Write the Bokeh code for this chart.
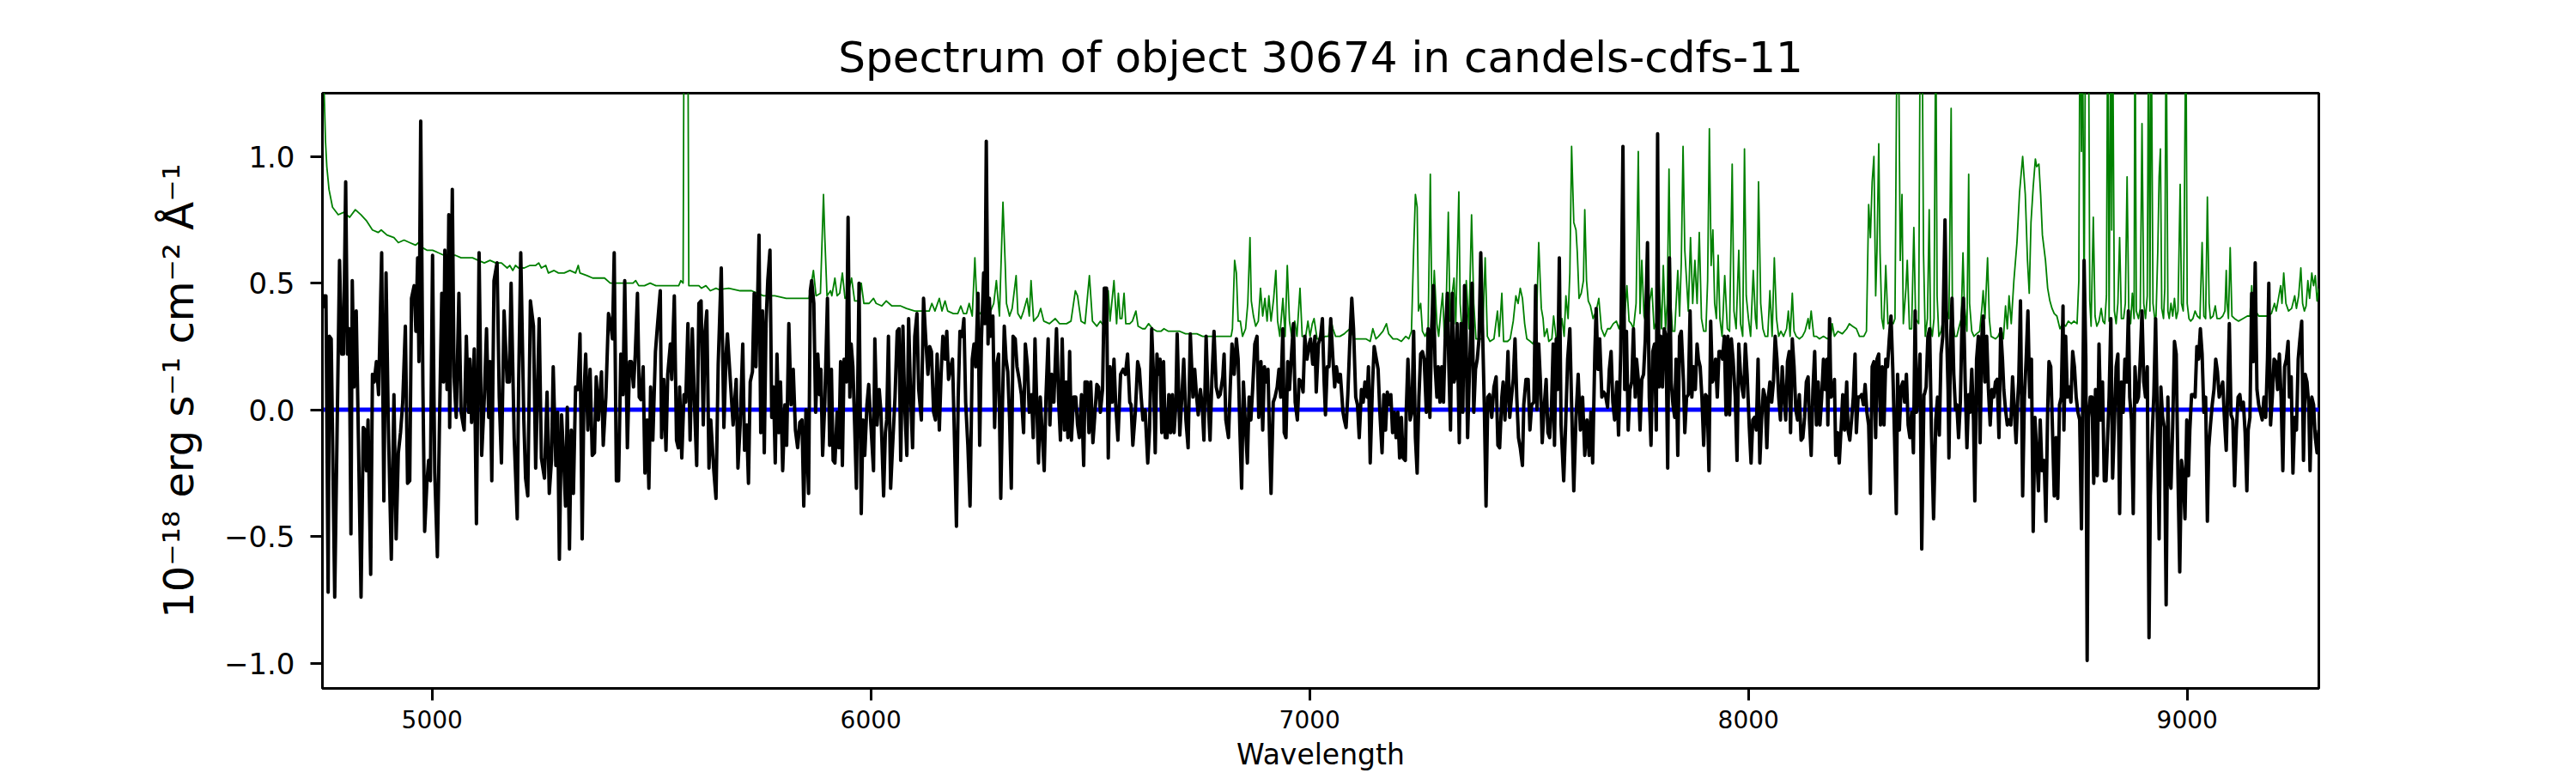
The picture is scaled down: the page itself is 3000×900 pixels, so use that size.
from bokeh.plotting import figure
from bokeh.models import Range1d, Span, FixedTicker
from bokeh.embed import file_html
from bokeh.resources import INLINE

title_text = "Spectrum of object 30674 in candels-cdfs-11"
x_label = "Wavelength"
y_label = "10\u207b\u00b9\u2078 erg s\u207b\u00b9 cm\u207b\u00b2 \u00c5\u207b\u00b9"
x_ticks = [5000, 6000, 7000, 8000, 9000]
y_ticks = [-1.0, -0.5, 0.0, 0.5, 1.0]
y_tick_labels = ["\u22121.0", "\u22120.5", "0.0", "0.5", "1.0"]
x_limits = (4750, 9300)
y_limits = (-1.10, 1.25)
zero_level = 0.0

# flux (black), (wavelength, value) pairs
flux_seg1 = [(4750,0.40),(4753,0.45),(4758,0.45),(4763,-0.72),(4766,0.29),(4770,0.28),(4778,-0.74),(4789,0.59),(4794,0.22),(4798,0.22),(4803,0.90),(4807,0.22),(4811,0.32),(4815,-0.49),(4818,0.51),(4822,0.09),(4827,0.39),(4832,-0.11),(4838,-0.74),(4843,-0.07),(4847,-0.08),(4850,-0.24),(4854,-0.04),(4860,-0.65),(4864,0.14),(4868,0.11),(4873,0.19),(4878,0.06),(4885,0.62),(4890,-0.36),(4895,0.54),(4900,-0.04),(4907,-0.59),(4913,0.06),(4918,-0.51),(4923,-0.17),(4928,-0.09),(4933,0.03),(4939,0.33),(4944,-0.29),(4949,-0.28),(4953,0.44),(4959,0.49),(4963,0.31),(4967,0.60),(4970,0.19),(4974,1.14),(4979,0.09),(4983,-0.48),(4988,-0.29),(4992,-0.20),(4996,-0.28),(5001,0.61),(5006,-0.25),(5012,-0.58),(5017,-0.03),(5022,0.46),(5026,0.11),(5029,0.63),(5034,0.08),(5038,0.77),(5040,-0.07),(5046,0.87),(5050,0.13),(5055,-0.03),(5061,0.46),(5066,-0.01),(5073,-0.08),(5078,0.29),(5083,-0.01),(5086,0.20),(5090,-0.05),(5096,0.24),(5101,-0.45),(5107,0.62),(5113,-0.18),(5119,0.05),(5124,0.32),(5129,-0.03),(5132,0.19),(5136,-0.28),(5141,0.51),(5148,0.58),(5153,0.05),(5158,-0.21),(5164,0.39),(5171,0.11),(5176,0.11),(5180,0.50),(5187,-0.11),(5194,-0.43),(5197,0.08),(5202,0.62),(5209,-0.04),(5213,-0.27),(5218,-0.34),(5224,0.43),(5231,0.33),(5236,-0.23),(5244,0.36),(5249,-0.19),(5256,-0.27),(5262,0.07),(5267,-0.33),(5272,-0.20),(5276,0.17),(5282,-0.22),(5286,-0.01),(5290,-0.59),(5295,-0.02),(5300,-0.20),(5304,-0.38),(5308,0.01),(5313,-0.55),(5317,-0.08),(5322,-0.33),(5327,0.09),(5332,0.08),(5337,0.30),(5342,-0.51),(5346,0.06),(5350,0.22),(5355,-0.08),(5360,0.16),(5365,-0.18),(5370,-0.17),(5374,0.13),(5379,-0.04),(5386,0.15),(5390,-0.14),(5396,0.05),(5402,0.38),(5407,0.34),(5411,0.28),(5415,0.62),(5420,-0.28),(5425,-0.28),(5430,0.22),(5435,0.06),(5439,0.51),(5445,-0.15),(5450,0.19),(5454,0.19),(5459,0.09),(5463,0.22),(5468,0.46),(5472,0.05),(5476,0.04),(5481,0.17),(5485,-0.25),(5490,-0.04),(5494,-0.31),(5498,0.09),(5503,-0.12),(5509,0.23),(5513,0.32),(5520,0.47),(5523,-0.11),(5528,0.12),(5533,-0.16),(5537,0.14),(5543,0.26),(5546,0.12),(5552,0.45),(5557,-0.12),(5561,-0.15),(5564,0.09),(5569,-0.19),(5574,0.06),(5578,0.03),(5583,0.34),(5588,-0.12),(5593,0.32),(5598,0.02),(5603,-0.22),(5608,0.42),(5613,0.43),(5618,-0.06),(5622,0.31),(5626,0.39),(5631,-0.23),(5635,-0.04),(5642,-0.24),(5647,-0.35),(5652,0.18),(5659,0.56),(5665,-0.07),(5670,0.22)]

flux_seg2 = [(5673,0.30),(5686,-0.06),(5693,0.12),(5697,-0.23),(5702,-0.06),(5708,0.26),(5712,-0.16),(5717,-0.06),(5721,-0.29),(5725,0.11),(5730,0.15),(5734,0.46),(5738,0.17),(5742,0.45),(5745,0.69),(5749,-0.09),(5753,0.39),(5757,-0.17),(5761,0.34),(5765,0.51),(5770,0.63),(5774,-0.03),(5778,0.09),(5782,-0.21),(5786,0.22),(5790,-0.09),(5794,0.11),(5799,-0.24),(5804,0.02),(5808,-0.14),(5813,0.34),(5818,0.02),(5823,0.16),(5828,-0.08),(5833,-0.15),(5838,-0.05),(5843,-0.04),(5847,-0.38),(5852,0.00),(5858,-0.33),(5862,0.47),(5865,0.51),(5870,0.42),(5874,-0.01),(5879,0.22),(5883,0.06),(5886,0.16),(5890,-0.18),(5895,0.03),(5901,0.44),(5906,-0.14),(5910,0.16),(5914,-0.20),(5918,-0.21),(5923,-0.01),(5927,-0.15),(5931,0.19),(5935,-0.22),(5939,0.20),(5944,0.11),(5948,0.76),(5952,0.05),(5955,0.26),(5959,0.17),(5963,-0.06),(5967,-0.31),(5973,0.50),(5978,-0.41),(5982,-0.04),(5986,-0.18),(5991,0.02),(5995,0.10),(5999,-0.03),(6006,-0.24),(6009,0.28),(6014,-0.06),(6019,0.08),(6023,-0.01),(6029,-0.34),(6033,-0.09),(6036,-0.04),(6040,0.29),(6045,-0.31),(6049,-0.16),(6055,0.05),(6060,0.31),(6064,0.32),(6068,-0.20),(6073,0.33),(6077,0.02),(6082,-0.18),(6086,0.36),(6090,0.09),(6095,-0.15),(6100,0.29),(6105,0.38),(6109,0.08),(6115,-0.04),(6120,0.44),(6125,0.28),(6130,0.14),(6134,0.25),(6138,0.23),(6143,-0.01),(6147,-0.04),(6151,0.22),(6156,-0.08),(6160,0.14),(6164,0.29),(6169,0.20),(6173,0.31),(6177,0.12),(6182,0.17),(6186,0.20),(6190,-0.08),(6195,-0.46),(6199,0.05),(6203,0.31),(6208,0.29),(6212,0.36),(6216,0.03),(6221,-0.14),(6226,-0.38),(6231,0.20),(6235,0.26),(6239,0.17),(6244,0.46),(6248,-0.14),(6252,0.28),(6257,0.54),(6260,0.34),(6263,1.06),(6267,0.26),(6270,0.44),(6273,0.29),(6278,0.37),(6282,-0.07),(6286,0.17),(6291,0.22),(6296,-0.35),(6300,0.03),(6304,0.33),(6308,0.20),(6312,0.15),(6316,-0.03),(6320,-0.31),(6324,0.29),(6329,0.28),(6333,0.17),(6338,0.12),(6343,0.06),(6348,-0.09),(6352,0.26),(6357,0.17),(6361,-0.01),(6366,0.06),(6370,-0.11),(6374,0.28),(6378,0.03),(6382,-0.21),(6386,0.05),(6391,-0.11),(6395,-0.24),(6399,0.05),(6404,0.28),(6408,-0.06),(6412,0.14),(6417,0.03),(6423,0.32),(6428,0.03),(6432,-0.12),(6436,0.28),(6441,-0.08),(6445,0.11),(6449,-0.11),(6453,0.23),(6457,-0.12),(6462,0.05),(6467,0.05),(6471,-0.06),(6475,-0.11),(6480,0.06),(6485,-0.22),(6488,0.11),(6493,0.11),(6497,-0.09),(6501,0.11),(6506,-0.13),(6510,-0.03),(6515,0.10),(6519,0.09),(6523,-0.01),(6528,0.08),(6532,0.48),(6537,0.48),(6541,-0.19),(6545,0.17),(6550,0.03),(6554,0.20),(6558,0.02),(6563,-0.12),(6569,0.14),(6575,0.16)]

flux_seg3 = [(6580,0.14),(6585,0.22),(6590,0.03),(6593,0.02),(6597,-0.14),(6603,0.00),(6608,0.19),(6612,0.16),(6616,0.05),(6620,-0.04),(6625,0.00),(6631,-0.21),(6635,-0.08),(6640,0.32),(6644,0.14),(6648,-0.17),(6652,0.22),(6655,0.14),(6659,0.20),(6663,-0.09),(6667,0.19),(6671,-0.11),(6675,-0.11),(6679,0.06),(6683,-0.09),(6687,0.06),(6691,-0.09),(6695,0.02),(6698,0.30),(6704,-0.10),(6709,0.06),(6713,0.20),(6718,-0.04),(6723,-0.15),(6728,0.30),(6734,0.05),(6738,0.16),(6742,0.06),(6746,-0.02),(6751,0.08),(6755,0.02),(6759,-0.12),(6764,0.29),(6769,0.02),(6773,-0.12),(6777,0.11),(6782,0.31),(6787,0.09),(6792,0.05),(6796,0.06),(6802,0.13),(6805,0.22),(6809,-0.04),(6815,-0.11),(6819,0.09),(6823,0.26),(6828,0.14),(6833,0.28),(6837,0.20),(6841,-0.08),(6845,-0.31),(6849,0.11),(6853,-0.04),(6858,-0.21),(6862,0.05),(6866,-0.04),(6870,0.08),(6875,0.26),(6880,0.29),(6884,-0.03),(6889,0.19),(6893,-0.08),(6897,0.17),(6901,0.11),(6905,0.16),(6909,-0.14),(6912,-0.33),(6917,0.03),(6921,0.05),(6926,0.09),(6930,0.16),(6934,0.05),(6939,0.32),(6942,-0.09),(6946,-0.11),(6950,0.19),(6954,0.08),(6958,0.20),(6963,0.34),(6967,0.03),(6972,-0.04),(6976,0.12),(6981,0.11),(6985,0.07),(6989,0.29),(6994,0.20),(6999,0.26),(7002,0.28),(7007,0.18),(7012,0.29),(7015,0.07),(7020,0.26),(7025,0.29),(7029,0.36),(7033,0.11),(7036,-0.02),(7040,0.17),(7044,0.17),(7048,0.36),(7053,0.20),(7057,0.09),(7061,0.17),(7066,0.11),(7070,0.14),(7076,-0.01),(7079,-0.04),(7083,-0.07),(7087,0.06),(7092,0.29),(7096,0.44),(7100,0.32),(7105,0.05),(7109,0.02),(7113,-0.11),(7118,0.08),(7122,0.03),(7126,0.11),(7131,0.05),(7134,0.17),(7138,-0.21),(7143,0.09),(7147,0.25),(7152,0.20),(7156,0.16),(7160,-0.01),(7165,-0.17),(7169,0.06),(7173,-0.08),(7177,0.07),(7181,0.02),(7185,0.06),(7189,-0.09),(7193,-0.01),(7197,-0.11),(7201,-0.01),(7205,-0.19),(7209,-0.03),(7213,-0.19),(7218,-0.20),(7220,-0.01),(7224,0.20),(7229,-0.04),(7233,-0.01),(7237,0.31),(7241,-0.11),(7245,-0.25),(7249,0.05),(7253,0.22),(7257,0.23),(7261,0.20),(7266,-0.01),(7270,0.32),(7274,-0.03),(7278,0.32),(7282,0.49),(7286,0.17),(7290,0.05),(7293,0.17),(7297,0.03),(7301,0.17),(7305,0.03),(7309,0.29),(7314,0.46),(7317,0.19),(7321,-0.08),(7325,0.46),(7329,0.11),(7333,0.14),(7336,0.34),(7341,-0.13),(7345,0.34),(7349,-0.01),(7353,0.49),(7356,0.36),(7360,-0.11),(7364,0.14),(7368,0.35),(7370,0.50),(7374,-0.01),(7378,0.16),(7382,0.20),(7386,0.28),(7390,0.62),(7394,0.32),(7398,0.02),(7402,-0.38),(7406,0.05),(7410,0.06),(7415,-0.03),(7420,0.09),(7425,0.13),(7429,-0.14),(7433,-0.15),(7438,0.05),(7441,0.11),(7445,-0.04),(7449,0.09),(7452,0.23),(7456,-0.03),(7460,0.05),(7464,0.12),(7468,0.28),(7472,0.05),(7476,-0.11),(7480,-0.15),(7485,-0.22)]

flux_seg4 = [(7488,0.02),(7493,0.12),(7498,0.12),(7502,-0.08),(7506,0.02),(7511,0.03),(7515,0.49),(7518,0.00),(7522,0.26),(7526,0.11),(7530,-0.13),(7534,0.00),(7539,0.12),(7543,-0.09),(7547,-0.11),(7551,0.00),(7555,0.26),(7558,-0.14),(7562,0.28),(7565,0.08),(7569,0.60),(7573,-0.06),(7579,-0.28),(7583,-0.08),(7588,0.20),(7593,0.32),(7597,0.02),(7602,-0.32),(7607,-0.03),(7612,0.14),(7617,-0.08),(7622,0.05),(7627,-0.18),(7632,-0.04),(7637,-0.18),(7641,-0.01),(7645,-0.21),(7650,0.23),(7653,0.40),(7657,0.16),(7661,0.28),(7666,0.05),(7670,0.07),(7674,0.06),(7679,0.01),(7683,0.16),(7687,0.23),(7691,0.03),(7695,-0.04),(7700,0.11),(7704,-0.10),(7709,0.23),(7714,1.04),(7718,0.08),(7722,0.31),(7726,-0.08),(7730,0.08),(7734,0.11),(7738,0.32),(7742,0.05),(7745,0.20),(7749,0.12),(7753,-0.08),(7757,0.12),(7761,0.14),(7765,0.28),(7770,0.66),(7774,0.05),(7778,-0.14),(7782,0.23),(7786,0.26),(7790,-0.08),(7793,1.09),(7796,0.09),(7800,0.29),(7804,0.09),(7808,0.32),(7812,0.29),(7816,-0.23),(7820,0.60),(7824,0.11),(7828,0.02),(7832,-0.03),(7835,0.20),(7839,-0.18),(7843,0.29),(7847,0.31),(7852,0.11),(7855,-0.09),(7859,0.05),(7863,0.06),(7867,0.39),(7871,0.05),(7875,0.17),(7879,0.08),(7883,0.26),(7886,0.20),(7890,0.17),(7894,0.05),(7898,-0.14),(7902,0.06),(7906,0.05),(7910,-0.24),(7914,0.35),(7918,0.11),(7922,0.13),(7925,0.20),(7929,0.05),(7933,0.23),(7937,0.23),(7941,0.20),(7945,0.29),(7949,-0.02),(7953,0.29),(7957,-0.02),(7961,0.28),(7965,0.20),(7970,0.05),(7974,-0.20),(7978,0.26),(7982,0.14),(7986,0.08),(7989,0.05),(7993,0.26),(7997,0.14),(8002,-0.07),(8006,-0.21),(8010,-0.04),(8014,-0.03),(8018,-0.08),(8022,0.20),(8026,-0.21),(8030,-0.04),(8034,0.08),(8038,0.05),(8042,-0.15),(8046,0.06),(8049,0.11),(8053,0.03),(8057,0.11),(8061,0.29),(8065,0.20),(8069,0.05),(8073,-0.04),(8077,0.17),(8081,0.05),(8085,-0.04),(8089,0.19),(8093,0.23),(8096,-0.09),(8100,0.28),(8104,0.17),(8108,0.00),(8112,-0.04),(8116,0.06),(8120,-0.12),(8124,-0.11),(8128,-0.03),(8132,0.11),(8136,0.13),(8139,-0.04),(8143,-0.18),(8147,0.08),(8151,0.23),(8155,-0.06),(8159,0.11),(8163,-0.06),(8167,0.05),(8171,0.20),(8175,0.08),(8179,0.20),(8181,-0.06),(8185,0.36),(8188,0.05),(8192,0.06),(8196,0.12),(8199,-0.18),(8203,-0.09),(8207,-0.21),(8211,-0.08),(8215,0.06),(8219,-0.08),(8224,0.11),(8227,-0.08),(8231,-0.12),(8235,-0.04),(8239,0.05),(8243,0.22),(8246,-0.09),(8250,0.05),(8254,0.05),(8258,0.06),(8262,0.02),(8266,0.10),(8270,-0.01),(8274,-0.06),(8278,-0.33),(8282,0.17),(8286,0.19),(8290,-0.11),(8293,0.20),(8297,0.22),(8301,-0.06),(8305,0.17),(8309,-0.06),(8313,0.20),(8317,0.17),(8321,0.28),(8325,0.37),(8329,0.16),(8333,-0.11),(8337,-0.41),(8340,0.14),(8344,-0.08),(8348,0.09),(8352,0.11),(8356,0.03),(8360,0.14),(8364,-0.06),(8368,-0.11),(8372,-0.01),(8376,-0.17),(8380,0.39),(8383,-0.01),(8387,0.06),(8391,0.22),(8395,-0.55),(8400,0.06)]

flux_seg5 = [(8401,0.06),(8405,0.09),(8409,0.29),(8413,0.32),(8417,-0.08),(8422,-0.43),(8427,-0.04),(8431,0.05),(8435,-0.10),(8439,0.22),(8443,0.29),(8448,0.75),(8452,0.29),(8455,0.08),(8457,-0.19),(8461,0.29),(8464,0.44),(8468,0.14),(8472,0.00),(8475,0.02),(8479,-0.11),(8483,0.03),(8487,0.37),(8490,0.44),(8494,0.11),(8498,-0.15),(8502,0.06),(8505,-0.01),(8509,0.16),(8513,-0.04),(8516,-0.36),(8520,0.20),(8524,0.29),(8528,-0.13),(8532,0.29),(8535,0.37),(8539,0.11),(8543,0.29),(8547,0.08),(8551,-0.06),(8555,0.08),(8559,0.05),(8563,0.11),(8567,0.12),(8571,-0.11),(8575,0.32),(8579,0.20),(8582,0.08),(8586,0.00),(8590,-0.06),(8594,-0.04),(8598,-0.06),(8602,0.13),(8606,0.00),(8610,-0.13),(8614,0.05),(8616,0.11),(8620,0.43),(8625,-0.34),(8629,0.05),(8633,0.20),(8637,0.39),(8641,0.05),(8645,0.20),(8649,-0.48),(8653,-0.03),(8657,-0.17),(8661,-0.32),(8665,-0.04),(8669,-0.24),(8674,-0.20),(8678,-0.44),(8682,0.00),(8685,0.19),(8689,0.17),(8693,-0.08),(8697,-0.34),(8701,-0.11),(8705,-0.35),(8709,0.02),(8713,0.05),(8717,0.41),(8719,-0.08),(8723,0.29),(8727,0.05),(8731,0.09),(8735,0.03),(8739,0.23),(8743,0.17),(8747,0.05),(8751,-0.01),(8755,-0.04),(8759,-0.47),(8762,0.05),(8765,0.59),(8769,0.20),(8772,-0.99),(8775,-0.03),(8779,0.05),(8783,0.05),(8787,-0.29),(8791,0.08),(8795,-0.26),(8799,0.26),(8803,-0.04),(8807,0.11),(8811,-0.28),(8815,-0.28),(8819,-0.09),(8822,0.05),(8826,0.36),(8830,-0.27),(8834,-0.06),(8838,0.17),(8842,0.22),(8846,-0.41),(8850,0.11),(8854,-0.01),(8858,0.20),(8862,0.11),(8866,0.39),(8869,0.05),(8873,-0.04),(8877,-0.41),(8881,0.17),(8885,0.03),(8889,0.05),(8893,0.20),(8897,0.39),(8901,0.11),(8905,0.05),(8909,0.17),(8913,-0.90),(8916,-0.34),(8920,-0.11),(8924,0.06),(8928,0.36),(8932,-0.04),(8936,-0.51),(8940,0.09),(8944,-0.03),(8948,-0.07),(8952,-0.77),(8956,0.05),(8959,-0.26),(8963,-0.31),(8967,-0.06),(8971,0.27),(8975,0.22),(8979,-0.26),(8983,-0.64),(8987,-0.20),(8991,-0.26),(8995,-0.43),(8999,-0.04),(9003,-0.26),(9006,-0.08),(9010,0.06),(9014,0.06),(9018,0.05),(9022,0.25),(9026,0.20),(9030,0.32),(9034,0.22),(9038,-0.01),(9042,0.05),(9046,-0.44),(9049,-0.15),(9053,-0.06),(9057,0.02),(9061,0.08),(9065,0.20),(9069,0.15),(9073,0.05),(9077,0.08),(9081,0.11),(9085,-0.04),(9089,-0.16),(9092,0.05),(9096,0.34),(9100,-0.02),(9104,-0.04),(9108,-0.30),(9112,-0.08),(9116,0.05),(9120,0.06),(9124,0.00),(9128,0.03),(9132,-0.09),(9136,-0.32),(9139,-0.08),(9143,-0.03),(9147,0.46),(9151,0.19),(9155,0.58),(9159,0.08),(9163,0.02),(9167,-0.01),(9171,-0.04),(9175,0.05),(9179,-0.03),(9183,0.20),(9186,0.50),(9190,-0.06),(9194,0.05),(9198,0.20),(9202,0.19),(9206,0.08),(9210,0.22),(9214,0.05),(9218,-0.24),(9222,0.17),(9226,0.20),(9230,0.27),(9233,0.05),(9237,0.13),(9241,-0.25),(9245,-0.03),(9249,-0.08),(9253,0.20),(9257,0.28),(9261,0.35),(9265,-0.20),(9269,0.14),(9273,0.11),(9277,0.02),(9280,-0.24),(9284,0.05),(9288,0.02),(9292,-0.11),(9296,-0.17),(9300,-0.08)]

# error spectrum (green), (wavelength, value) pairs
err_seg1 = [(4750,1.90),(4752,1.50),(4754,1.25),(4757,1.06),(4760,0.96),(4765,0.87),(4773,0.80),(4786,0.77),(4799,0.78),(4812,0.76),(4825,0.79),(4838,0.77),(4851,0.745),(4864,0.71),(4877,0.70),(4884,0.71),(4897,0.69),(4913,0.68),(4923,0.66),(4936,0.67),(4949,0.66),(4962,0.65),(4969,0.66),(4978,0.64),(4988,0.63),(5001,0.63),(5014,0.62),(5027,0.61),(5040,0.61),(5053,0.61),(5066,0.60),(5079,0.60),(5092,0.60),(5105,0.59),(5119,0.58),(5132,0.59),(5145,0.58),(5158,0.58),(5171,0.56),(5177,0.57),(5184,0.55),(5190,0.57),(5197,0.56),(5210,0.56),(5223,0.57),(5236,0.57),(5243,0.58),(5249,0.56),(5259,0.57),(5265,0.54),(5278,0.55),(5288,0.54),(5301,0.54),(5314,0.55),(5327,0.54),(5333,0.57),(5337,0.54),(5353,0.53),(5366,0.52),(5379,0.52),(5393,0.52),(5406,0.50),(5419,0.50),(5432,0.50),(5445,0.50),(5458,0.50),(5464,0.51),(5471,0.49),(5484,0.49),(5497,0.50),(5510,0.49),(5523,0.49),(5536,0.49),(5549,0.49),(5562,0.49),(5567,0.51),(5572,0.50),(5575,2.0),(5578,3.0),(5582,2.0),(5585,0.49),(5595,0.49),(5608,0.49),(5614,0.48),(5624,0.49),(5634,0.47),(5647,0.48)]

err_seg2 = [(5653,0.475),(5676,0.48),(5702,0.47),(5728,0.47),(5755,0.45),(5781,0.45),(5807,0.44),(5833,0.44),(5859,0.44),(5869,0.55),(5875,0.45),(5885,0.46),(5892,0.85),(5895,0.68),(5900,0.45),(5908,0.47),(5911,0.45),(5918,0.52),(5923,0.45),(5929,0.46),(5935,0.54),(5941,0.44),(5947,0.45),(5956,0.52),(5963,0.43),(5973,0.43),(5978,0.50),(5984,0.42),(5996,0.42),(6006,0.44),(6012,0.42),(6025,0.41),(6035,0.43),(6048,0.41),(6068,0.41),(6081,0.40),(6100,0.39),(6120,0.39),(6133,0.39),(6139,0.42),(6146,0.39),(6156,0.44),(6162,0.39),(6169,0.43),(6175,0.39),(6188,0.38),(6198,0.38),(6205,0.41),(6211,0.38),(6218,0.38),(6224,0.42),(6231,0.37),(6237,0.60),(6242,0.40),(6249,0.38),(6257,0.37),(6263,0.37),(6267,0.43),(6273,0.39),(6280,0.42),(6286,0.51),(6293,0.37),(6301,0.82),(6306,0.58),(6309,0.42),(6316,0.37),(6322,0.40),(6331,0.53),(6335,0.38),(6342,0.36),(6348,0.39),(6356,0.44),(6361,0.37),(6365,0.51),(6371,0.35),(6381,0.37),(6387,0.40),(6394,0.35),(6407,0.34),(6420,0.36),(6430,0.34),(6446,0.34),(6456,0.35),(6466,0.47),(6471,0.45),(6479,0.35),(6488,0.34),(6498,0.53),(6505,0.35),(6515,0.33),(6523,0.35),(6531,0.33),(6541,0.47),(6545,0.35),(6554,0.51),(6560,0.34)]

err_seg3 = [(6564,0.46),(6568,0.36),(6572,0.36),(6577,0.46),(6581,0.34),(6590,0.34),(6596,0.35),(6604,0.39),(6609,0.33),(6619,0.32),(6625,0.32),(6633,0.34),(6642,0.32),(6652,0.31),(6661,0.31),(6668,0.32),(6678,0.31),(6691,0.31),(6704,0.31),(6717,0.30),(6730,0.30),(6743,0.30),(6756,0.29),(6769,0.29),(6782,0.29),(6795,0.29),(6808,0.29),(6821,0.29),(6824,0.32),(6829,0.59),(6833,0.54),(6837,0.35),(6842,0.35),(6847,0.29),(6854,0.32),(6859,0.42),(6864,0.68),(6867,0.43),(6872,0.37),(6877,0.33),(6883,0.35),(6888,0.48),(6893,0.37),(6898,0.44),(6903,0.35),(6907,0.45),(6912,0.35),(6918,0.44),(6923,0.55),(6927,0.35),(6932,0.29),(6939,0.44),(6944,0.29),(6949,0.57),(6954,0.35),(6959,0.29),(6966,0.35),(6971,0.29),(6978,0.48),(6983,0.29),(6991,0.29),(6996,0.35),(7001,0.29),(7006,0.34),(7010,0.36),(7017,0.28),(7027,0.28),(7036,0.29),(7043,0.29),(7048,0.36),(7053,0.32),(7059,0.29),(7069,0.29),(7079,0.30),(7085,0.31),(7092,0.32),(7102,0.28),(7115,0.28),(7128,0.28),(7138,0.27),(7144,0.32),(7151,0.28),(7157,0.29),(7167,0.31),(7175,0.34),(7180,0.30),(7190,0.28),(7199,0.28),(7209,0.27),(7219,0.29),(7226,0.28),(7232,0.31),(7237,0.63),(7241,0.85),(7245,0.80),(7248,0.39),(7253,0.42),(7257,0.31),(7263,0.29),(7270,0.32),(7275,0.93),(7279,0.32),(7284,0.55),(7290,0.34),(7294,0.29),(7299,0.39),(7303,0.46),(7307,0.29),(7310,0.32),(7316,0.78),(7320,0.35),(7325,0.46),(7329,0.52),(7333,0.34),(7340,0.86),(7343,0.42),(7348,0.29),(7353,0.35),(7357,0.51),(7363,0.32),(7369,0.77),(7374,0.42),(7379,0.28),(7385,0.28),(7394,0.28),(7400,0.60),(7405,0.29),(7411,0.27),(7420,0.28),(7428,0.39),(7432,0.29),(7438,0.46),(7442,0.27),(7451,0.27),(7457,0.28),(7464,0.35),(7470,0.45),(7475,0.42),(7480,0.48),(7485,0.44)]

err_seg4 = [(7490,0.34),(7495,0.28),(7503,0.27),(7509,0.26),(7516,0.29),(7522,0.66),(7528,0.40),(7532,0.36),(7535,0.29),(7541,0.32),(7545,0.27),(7552,0.28),(7556,0.37),(7562,0.28),(7568,0.29),(7575,0.36),(7580,0.29),(7584,0.45),(7589,0.36),(7593,0.54),(7597,1.04),(7602,0.74),(7607,0.71),(7610,0.62),(7614,0.44),(7619,0.46),(7624,0.51),(7627,0.79),(7631,0.51),(7635,0.43),(7640,0.41),(7646,0.36),(7653,0.39),(7659,0.44),(7665,0.32),(7672,0.29),(7679,0.32),(7685,0.32),(7692,0.34),(7699,0.35),(7705,0.32),(7712,0.37),(7717,0.35),(7723,0.49),(7728,0.35),(7733,0.34),(7738,0.32),(7744,0.42),(7749,1.02),(7753,0.38),(7757,0.59),(7762,0.37),(7767,0.34),(7772,0.35),(7775,0.43),(7780,0.48),(7785,0.32),(7791,0.35),(7796,0.51),(7802,0.32),(7806,0.57),(7811,0.32),(7815,0.42),(7819,0.95),(7823,0.42),(7827,0.31),(7832,0.31),(7839,0.55),(7843,0.37),(7847,0.58),(7851,1.04),(7855,0.63),(7859,0.51),(7863,0.39),(7868,0.68),(7873,0.42),(7878,0.59),(7883,0.42),(7888,0.70),(7893,0.36),(7898,0.31),(7903,0.31),(7907,0.51),(7911,1.11),(7915,0.57),(7919,0.71),(7923,0.42),(7927,0.36),(7931,0.61),(7935,0.36),(7940,0.29),(7946,0.53),(7952,0.32),(7957,0.31),(7963,0.97),(7967,0.39),(7972,0.32),(7978,0.63),(7982,0.34),(7987,0.29),(7991,1.03),(7995,0.45),(8000,0.36),(8005,0.29),(8011,0.55),(8016,0.36),(8019,0.32),(8023,0.90),(8028,0.42),(8033,0.32),(8038,0.29),(8044,0.29),(8049,0.47),(8054,0.29),(8059,0.60),(8064,0.36),(8069,0.29),(8074,0.31),(8080,0.29),(8087,0.32),(8091,0.39),(8095,0.29),(8100,0.46),(8104,0.31),(8109,0.29),(8116,0.28),(8123,0.29),(8129,0.31),(8136,0.36),(8139,0.32),(8143,0.39),(8149,0.29),(8155,0.29),(8162,0.28),(8171,0.29),(8180,0.28),(8188,0.29),(8191,0.34),(8196,0.29),(8204,0.31),(8214,0.30),(8224,0.32),(8230,0.34),(8237,0.33),(8246,0.32),(8253,0.29),(8263,0.29),(8269,0.31),(8274,0.81),(8278,0.68),(8282,0.90),(8286,1.00),(8290,0.45),(8293,0.63),(8297,1.05),(8300,0.62),(8304,0.36),(8308,0.32),(8313,0.57),(8318,0.34),(8325,0.35),(8330,0.34),(8334,0.36),(8339,1.60),(8342,1.50),(8346,0.59),(8350,0.85),(8353,0.34),(8359,0.48),(8362,0.59),(8367,0.32),(8372,0.32),(8377,0.72),(8381,0.36),(8388,0.34),(8392,1.70),(8396,1.50),(8399,0.62)]

err_seg5 = [(8403,0.29),(8408,0.36),(8412,0.79),(8415,0.33),(8419,0.29),(8423,0.36),(8427,1.60),(8430,0.45),(8434,0.29),(8439,0.31),(8444,0.36),(8448,0.57),(8452,0.39),(8457,0.36),(8462,1.19),(8465,0.37),(8470,0.29),(8475,0.29),(8479,0.32),(8485,0.36),(8489,0.62),(8492,0.42),(8498,0.31),(8502,0.93),(8504,0.42),(8509,0.31),(8514,0.29),(8520,0.30),(8527,0.31),(8532,0.40),(8535,0.47),(8539,0.36),(8545,0.60),(8549,0.36),(8553,0.29),(8563,0.28),(8569,0.29),(8576,0.32),(8581,0.28),(8586,0.41),(8590,0.32),(8594,0.45),(8599,0.34),(8605,0.51),(8612,0.66),(8618,0.86),(8625,1.00),(8631,0.85),(8636,0.59),(8640,0.46),(8644,0.74),(8649,0.88),(8654,0.99),(8657,0.96),(8662,0.97),(8666,0.85),(8670,0.69),(8677,0.59),(8682,0.48),(8687,0.43),(8692,0.40),(8697,0.38),(8703,0.37),(8710,0.32),(8716,0.34),(8723,0.33),(8729,0.35),(8736,0.34),(8742,0.35),(8749,0.34),(8753,0.51),(8756,1.80),(8759,1.02),(8761,1.70),(8765,0.42),(8769,1.80),(8772,1.90),(8775,1.60),(8778,0.43),(8781,0.33),(8786,0.76),(8790,0.37),(8794,0.33),(8799,0.35),(8804,0.40),(8808,0.35),(8812,0.34),(8816,0.45),(8819,1.70),(8822,0.35),(8826,1.60),(8828,0.71),(8830,1.60),(8834,0.39),(8838,0.34),(8842,0.42),(8846,0.68),(8850,0.36),(8855,0.36),(8859,0.42),(8863,0.92),(8867,0.37),(8871,0.34),(8875,0.46),(8879,0.36),(8881,1.70),(8884,0.39),(8889,0.36),(8893,0.40),(8897,1.13),(8901,0.42),(8905,0.36),(8909,0.45),(8912,1.60),(8915,0.39),(8918,1.60),(8922,0.42),(8926,0.36),(8929,0.37),(8933,0.63),(8936,0.92),(8939,1.03),(8942,0.40),(8946,0.36),(8949,0.48),(8952,1.60),(8956,0.39),(8959,0.36),(8963,0.42),(8967,0.37),(8971,0.44),(8975,0.36),(8979,0.39),(8984,0.89),(8987,0.42),(8991,0.39),(8993,0.66),(8997,1.60),(9000,0.42),(9004,0.36),(9008,0.35),(9013,0.36),(9018,0.39),(9023,0.37),(9029,0.36),(9034,0.66),(9038,0.37),(9042,0.36),(9046,0.84),(9050,0.42),(9053,0.36),(9059,0.37),(9064,0.41),(9068,0.36),(9075,0.36),(9081,0.37),(9086,0.39),(9089,0.55),(9091,0.42),(9094,0.36),(9098,0.64),(9102,0.37),(9108,0.36),(9117,0.35),(9127,0.36),(9137,0.37),(9143,0.37),(9147,0.49),(9151,0.37),(9156,0.39),(9163,0.37),(9173,0.37),(9183,0.37),(9192,0.38),(9199,0.42),(9203,0.39),(9209,0.45),(9213,0.49),(9216,0.42),(9220,0.54),(9225,0.42),(9231,0.39),(9238,0.40),(9245,0.45),(9249,0.40),(9254,0.45),(9259,0.56),(9263,0.42),(9267,0.39),(9271,0.41),(9275,0.51),(9279,0.44),(9284,0.54),(9288,0.49),(9292,0.53),(9296,0.43),(9300,0.48)]

flux_pairs = flux_seg1 + flux_seg2 + flux_seg3 + flux_seg4 + flux_seg5
err_pairs = err_seg1 + err_seg2 + err_seg3 + err_seg4 + err_seg5
flux_wave = [w for w, _ in flux_pairs]
flux = [v for _, v in flux_pairs]
err_wave = [w for w, _ in err_pairs]
err = [v for _, v in err_pairs]

FONT = "DejaVu Sans"

p = figure(width=2984, height=900,
           x_range=Range1d(*x_limits), y_range=Range1d(*y_limits),
           output_backend="svg", toolbar_location=None,
           min_border_left=375, min_border_right=284,
           min_border_top=108, min_border_bottom=99,
           title=title_text)

p.background_fill_color = "white"
p.border_fill_color = "white"
p.grid.visible = False
p.outline_line_color = "black"
p.outline_line_width = 3

p.title.text_font = FONT
p.title.text_font_size = "50px"
p.title.text_font_style = "normal"
p.title.align = "center"
p.title.standoff = 26
p.title.text_color = "black"

for ax in (p.xaxis[0], p.yaxis[0]):
    ax.axis_line_width = 3
    ax.axis_line_color = "black"
    ax.major_tick_line_width = 3
    ax.major_tick_line_color = "black"
    ax.major_tick_out = 14
    ax.major_tick_in = 0
    ax.minor_tick_line_color = None
    ax.major_label_text_font = FONT
    ax.major_label_text_color = "black"
    ax.axis_label_text_font = FONT
    ax.axis_label_text_font_style = "normal"
    ax.axis_label_text_color = "black"

p.xaxis.ticker = FixedTicker(ticks=x_ticks, minor_ticks=[])
p.xaxis.major_label_text_font_size = "28px"
p.xaxis.major_label_standoff = 11
p.xaxis.axis_label = x_label
p.xaxis.axis_label_text_font_size = "33px"
p.xaxis.axis_label_standoff = 8

p.yaxis.ticker = FixedTicker(ticks=y_ticks, minor_ticks=[])
p.yaxis.major_label_overrides = dict(zip(y_ticks, y_tick_labels))
p.yaxis.major_label_text_font_size = "34px"
p.yaxis.major_label_standoff = 18
p.yaxis.axis_label = y_label
p.yaxis.axis_label_text_font_size = "48px"
p.yaxis.axis_label_standoff = 22

p.add_layout(Span(location=zero_level, dimension="width", line_color="#0000ff",
                  line_width=5, level="underlay"))
p.line(err_wave, err, line_color="#008000", line_width=1.8, line_join="round")
p.line(flux_wave, flux, line_color="black", line_width=4, line_join="round")

open("out.html", "w").write(file_html(p, INLINE))
